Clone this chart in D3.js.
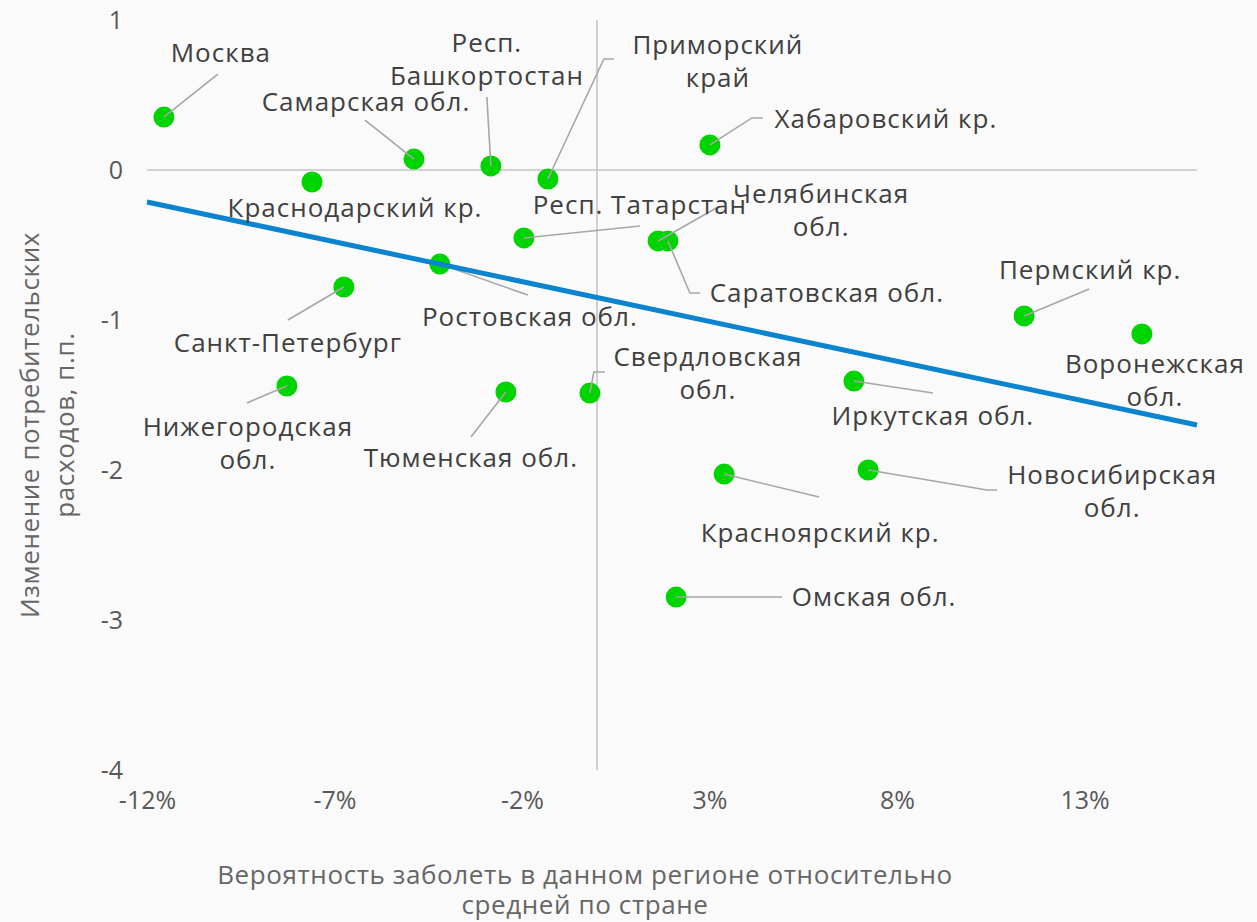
<!DOCTYPE html>
<html>
<head>
<meta charset="utf-8">
<script src="https://cdn.jsdelivr.net/npm/d3@7"></script>
<style>
  body { margin: 0; background: #fafafa; }
  svg { display: block; font-family: "Open Sans", sans-serif; }
  .lbl { fill: #404040; font-size: 26px; letter-spacing: 1px; }
  .tick-lbl { fill: #595959; font-size: 25px; }
  .title { fill: #666666; font-size: 26px; letter-spacing: 0.6px; }
</style>
</head>
<body>
<div id="chart"></div>
<script>
// regions, x = risk vs national average (%), y = change of consumer spending (p.p.)
const regions = [
  "Москва", "Самарская обл.", "Респ.\nБашкортостан", "Приморский\nкрай", "Хабаровский кр.",
  "Краснодарский кр.", "Респ. Татарстан", "Челябинская\nобл.", "Саратовская обл.", "Ростовская обл.",
  "Санкт-Петербург", "Пермский кр.", "Воронежская\nобл.", "Иркутская обл.", "Нижегородская\nобл.",
  "Тюменская обл.", "Свердловская\nобл.", "Красноярский кр.", "Новосибирская\nобл.", "Омская обл."
];
const riskDiff = [
  -11.55, -4.88, -2.83, -1.31, 3.01,
  -7.6, -1.95, 1.63, 1.89, -4.19,
  -6.75, 11.39, 14.53, 6.85, -8.27,
  -2.43, -0.19, 3.39, 7.23, 2.11
];
const spendChange = [
  0.353, 0.073, 0.027, -0.06, 0.167,
  -0.08, -0.453, -0.473, -0.473, -0.627,
  -0.78, -0.973, -1.093, -1.407, -1.44,
  -1.48, -1.487, -2.027, -2.0, -2.847
];

const trendX = [-12, 16];
const trendY = [-0.213, -1.70];

const xTicks = [-12, -7, -2, 3, 8, 13];
const yTicks = [1, 0, -1, -2, -3, -4];

// label placement (pixel offsets from the point) and leader line bends
const labelPos = [
  [57, -64, [[54, -43]]],
  [-48, -57, [[-49, -39]]],
  [-4, -107, [[-4, -69]]],
  [170, -118, [[56, -120], [66, -120]]],
  [176, -26, [[42, -27], [53, -27]]],
  [43, 26, []],
  [116, -33, [[116, -12]]],
  [163, -31, [[60, -34]]],
  [159, 52, [[22, 52], [32, 52]]],
  [90, 53, [[88, 31]]],
  [-56, 56, [[-56, 33]]],
  [66, -46, [[65, -27]]],
  [13, 46, []],
  [79, 35, [[79, 12]]],
  [-39, 57, [[-40, 17]]],
  [-35, 66, [[-35, 45]]],
  [118, -20, [[4, -21], [15, -21]]],
  [96, 59, [[95, 23]]],
  [244, 21, [[119, 20], [129, 20]]],
  [198, 0, [[106, 0]]]
];

const width = 1257, height = 922;
const plot = { left: 147, right: 1197, top: 20, bottom: 770 };

const svg = d3.select("#chart").append("svg")
  .attr("width", width)
  .attr("height", height);

svg.append("rect").attr("width", width).attr("height", height).attr("fill", "#fafafa");

const x = d3.scaleLinear().domain([-12, 16]).range([plot.left, plot.right]);
const y = d3.scaleLinear().domain([-4, 1]).range([plot.bottom, plot.top]);

const points = regions.map((name, i) => ({
  name, x: riskDiff[i], y: spendChange[i],
  dx: labelPos[i][0], dy: labelPos[i][1], leader: labelPos[i][2]
}));

// zero lines
svg.append("line")
  .attr("x1", plot.left).attr("x2", plot.right)
  .attr("y1", y(0)).attr("y2", y(0))
  .attr("stroke", "#c4c4c4").attr("stroke-width", 1.6);
svg.append("line")
  .attr("x1", x(0)).attr("x2", x(0))
  .attr("y1", plot.top).attr("y2", plot.bottom)
  .attr("stroke", "#c4c4c4").attr("stroke-width", 1.6);

// tick labels
const xAxis = svg.append("g")
  .attr("transform", `translate(0, ${plot.bottom + 18})`)
  .call(d3.axisBottom(x).tickValues(xTicks).tickSize(0).tickFormat(d => d + "%"));
xAxis.select(".domain").remove();
xAxis.selectAll("text").attr("class", "tick-lbl").attr("fill", null).attr("dy", "0.71em");

const yAxis = svg.append("g")
  .attr("transform", `translate(${plot.left - 24}, 0)`)
  .call(d3.axisLeft(y).tickValues(yTicks).tickSize(0).tickFormat(d => d));
yAxis.select(".domain").remove();
yAxis.selectAll("text").attr("class", "tick-lbl").attr("fill", null).attr("x", 0);
xAxis.attr("font-family", null).attr("font-size", null);
yAxis.attr("font-family", null).attr("font-size", null);

// points
svg.append("g").selectAll("circle")
  .data(points)
  .join("circle")
  .attr("cx", d => x(d.x))
  .attr("cy", d => y(d.y))
  .attr("r", 10.5)
  .attr("fill", "#00d400");

// leader lines
svg.append("g").selectAll("polyline")
  .data(points.filter(d => d.leader.length))
  .join("polyline")
  .attr("points", d => {
    const px = x(d.x), py = y(d.y);
    return [[px, py], ...d.leader.map(([a, b]) => [px + a, py + b])].map(p => p.join(",")).join(" ");
  })
  .attr("fill", "none")
  .attr("stroke", "#a6a6a6")
  .attr("stroke-width", 1.6);

// linear trend
svg.append("line")
  .attr("x1", x(trendX[0])).attr("y1", y(trendY[0]))
  .attr("x2", x(trendX[1])).attr("y2", y(trendY[1]))
  .attr("stroke", "#0a84cf")
  .attr("stroke-width", 5);

// data labels
const lineH = 33;
const labels = svg.append("g").selectAll("text")
  .data(points)
  .join("text")
  .attr("class", "lbl")
  .attr("text-anchor", "middle")
  .attr("transform", d => `translate(${x(d.x) + d.dx}, ${y(d.y) + d.dy})`);

labels.each(function (d) {
  const lines = d.name.split("\n");
  const off = -(lines.length - 1) * lineH / 2;
  d3.select(this).selectAll("tspan")
    .data(lines)
    .join("tspan")
    .attr("x", 0)
    .attr("y", (l, i) => off + i * lineH)
    .attr("dy", "0.35em")
    .text(l => l);
});

// axis titles
svg.append("text")
  .attr("class", "title")
  .attr("text-anchor", "middle")
  .attr("transform", "translate(30, 425) rotate(-90)")
  .attr("dy", "0.35em")
  .text("Изменение потребительских");
svg.append("text")
  .attr("class", "title")
  .attr("text-anchor", "middle")
  .attr("transform", "translate(65, 425) rotate(-90)")
  .attr("dy", "0.35em")
  .text("расходов, п.п.");

svg.append("text")
  .attr("class", "title")
  .attr("text-anchor", "middle")
  .attr("x", 585).attr("y", 875)
  .attr("dy", "0.35em")
  .text("Вероятность заболеть в данном регионе относительно");
svg.append("text")
  .attr("class", "title")
  .attr("text-anchor", "middle")
  .attr("x", 585).attr("y", 905)
  .attr("dy", "0.35em")
  .text("средней по стране");
</script>
</body>
</html>
